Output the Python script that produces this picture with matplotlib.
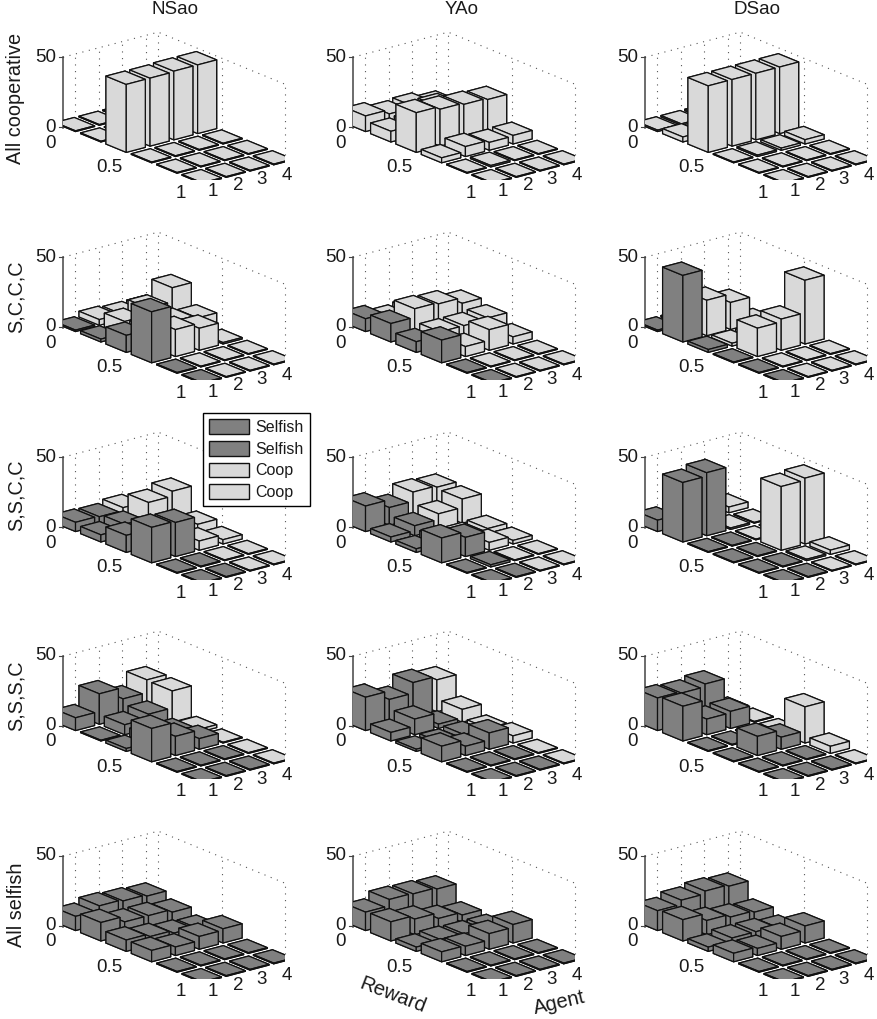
import matplotlib
matplotlib.use("Agg")
import matplotlib.pyplot as plt
from matplotlib.lines import Line2D
from matplotlib.patches import Patch
from matplotlib.transforms import Bbox
from mpl_toolkits.mplot3d import proj3d

plt.rcParams['font.family'] = ['Liberation Sans', 'DejaVu Sans']

W, H = 877, 1019

methods = ["NSao", "YAo", "DSao"]
scenarios = ["All cooperative", "S,C,C,C", "S,S,C,C", "S,S,S,C", "All selfish"]
n_selfish = [0, 1, 2, 3, 4]
rewards = [0, 0.2, 0.4, 0.6, 0.8, 1]
agents = [1, 2, 3, 4]
reward_ticks = ["0", "0.5", "1"]

# height per agent (rows) and reward (columns)
ns_0 = [[.5, .5, 48, .5, .5, .5], [.5, .5, 48, .5, .5, .5], [.5, .5, 48.5, .5, .5, .5], [.5, .5, 48.5, .5, .5, .5]]
ya_0 = [[11, 7.5, 28, 3.5, .5, .5], [8, 8, 26, 7, 1, .5], [9, 16, 25, 5.5, .5, .5], [6, 10, 24, 6, .5, .5]]
ds_0 = [[1, 3.5, 47, .5, .5, .5], [1, 1, 47, 1, .5, .5], [1, 1, 47, 1.5, .5, .5], [1, 1, 47, 3, .5, .5]]

ns_1 = [[1, 2, 12, 36, .5, .5], [4, 10, 12, 19, .5, .5], [3, 15, 13, 15.5, .5, .5], [3, 25, 11, 1, .5, .5]]
ya_1 = [[9, 13, 7.5, 16, .5, .5], [5, 19, 10, 7, .5, .5], [6, 18, 10, 14.5, .5, .5], [4, 14, 11, 5, .5, .5]]
ds_1 = [[1, 47, 2, .5, .5, .5], [1, 25, 2, 20, .5, .5], [1, 19, 2, 22, .5, .5], [1, 1, 2, 45, .5, .5]]

ns_2 = [[6.5, 5, 12, 25, .5, .5], [6, 8, 8, 24, .5, .5], [8, 19, 8, 6.5, .5, .5], [4, 22.5, 6.5, 3, .5, .5]]
ya_2 = [[18, 3.5, 2.5, 17.5, .5, .5], [12.5, 7, 5, 13.5, 1.5, .5], [19, 11, 3, 5.5, .5, .5], [18, 17, 3.5, 2.5, .5, .5]]
ds_2 = [[8, 42, .5, .5, .5, .5], [1, 44.5, .5, .5, .5, .5], [1, 1, .5, 45, 1, .5], [4, .5, .5, 46.5, 3, .5]]

ns_3 = [[9, .5, 2, 23.5, .5, .5], [21.5, 7, 6, 13.5, .5, .5], [13.5, 10, 5, 7.5, .5, .5], [22.5, 22, 2, .5, .5, .5]]
ya_3 = [[23.5, 6, 1.5, 11, .5, .5], [17.5, 11, 2, 6.5, .5, .5], [25, 3, 3, 11.5, .5, .5], [22.5, 9, 3, 5, .5, .5]]
ds_3 = [[23, 24.5, .5, .5, .5, .5], [22, 11, .5, 13.5, .5, .5], [24, 12, .5, 8.5, .5, .5], [1, .5, .5, 25.5, 5, .5]]

ns_4 = [[10, 13, 8, 8, .5, .5], [13, 9, 6, 6, .5, .5], [12, 9, 4, 9, .5, .5], [11, 7, 3, 10, .5, .5]]
ya_4 = [[13, 13.5, 3, 7, .5, .5], [17.5, 11, 4, 6.5, .5, .5], [17, 7, 3.5, 11, .5, .5], [16, 5, 3.5, 13, .5, .5]]
ds_4 = [[14, 15, 3, 6, .5, .5], [17, 10, 5, 5, .5, .5], [19, 8, 5, 9, .5, .5], [18, 7, 3, 12, .5, .5]]

tablas = [[ns_0, ya_0, ds_0], [ns_1, ya_1, ds_1], [ns_2, ya_2, ds_2], [ns_3, ya_3, ds_3], [ns_4, ya_4, ds_4]]

# pixel position of the left corner of each panel floor
col_x = [63, 353, 645]
row_y = [128, 328, 528, 727, 927]
title_x = [175, 462, 757]

DARK = "#808080"
LIGHT = "#d9d9d9"
TEXT = "#1a1a1a"
FS = 13.5
half_r = 0.08
half_a = 0.4

fig = plt.figure(figsize=(W / 100, H / 100), dpi=100)


def fx(x):
    return x / W


def fy(y):
    return 1 - y / H


def pixel(ax, x, y, z):
    px, py, _ = proj3d.proj_transform(x, y, z, ax.get_proj())
    return ax.transData.transform((px, py))


def fit_axes(ax, x0, y0, width=222):
    # el tamano y la posicion se ajustan midiendo dos esquinas del suelo
    left = pixel(ax, 0, 0.5, 0)
    right = pixel(ax, 1, 4.5, 0)
    pos = ax.get_position()
    k = width / (right[0] - left[0])
    ax.set_position([pos.x0, pos.y0, pos.width * k, pos.height * k])
    left = pixel(ax, 0, 0.5, 0)
    pos = ax.get_position()
    ax.set_position([pos.x0 + (x0 - left[0]) / W, pos.y0 + ((H - y0) - left[1]) / H, pos.width, pos.height])


def panel(x0, y0, tabla, selfish):
    ax = fig.add_axes([0, 0, 241 / W, 241 / H], projection='3d')
    ax.set_proj_type('ortho')
    ax.view_init(elev=19.2, azim=-38.7)
    ax.set_xlim(0, 1)
    ax.set_ylim(0.5, 4.5)
    ax.set_zlim(0, 50)
    ax.set_box_aspect((203, 122, 75))
    ax.set_axis_off()
    ax.computed_zorder = False
    fit_axes(ax, x0, y0)

    # rejilla punteada de las paredes
    dots = dict(color="#555555", lw=0.8, ls=(0, (1, 5)), zorder=0)
    ax.plot([0, 0, 1], [0.5, 4.5, 4.5], [50, 50, 50], **dots)
    for a in agents:
        ax.plot([0, 0], [a, a], [0, 50], **dots)
    for r in [0, 0.5, 1]:
        ax.plot([r, r], [4.5, 4.5], [0, 50], **dots)
    ax.plot([0, 0], [0.5, 0.5], [0, 50], color="#444444", lw=1.1, zorder=0.5)

    # las barras se recortan con el rectangulo de la caja, no con los limites
    caja = Bbox([[x0, H - y0 - 52], [x0 + 222, H - y0 + 100]])

    # de atras hacia adelante
    n = 1
    for i, r in enumerate(rewards):
        for j in range(len(agents) - 1, -1, -1):
            color = DARK if j < selfish else LIGHT
            barra = ax.bar3d(r - half_r, agents[j] - half_a, 0, 2 * half_r, 2 * half_a, tabla[j][i], color=color,
                             shade=False, edgecolor="#111111", linewidth=0.9, zorder=n)
            barra.set_clip_box(caja)
            n += 1

    # ejes a mano con texto real
    for dy, lab in [(-71, "50"), (-1, "0")]:
        fig.add_artist(Line2D([fx(x0 - 4), fx(x0)], [fy(y0 + dy), fy(y0 + dy)], color="#444444", lw=0.8))
        fig.text(fx(x0 - 7), fy(y0 + dy), lab, ha='right', va='center', fontsize=FS, color=TEXT)
    fig.text(fx(x0 - 7), fy(y0 + 15), reward_ticks[0], ha='right', va='center', fontsize=FS, color=TEXT)
    fig.text(fx(x0 + 46), fy(y0 + 40), reward_ticks[1], ha='center', va='center', fontsize=FS, color=TEXT)
    fig.text(fx(x0 + 118), fy(y0 + 65), reward_ticks[2], ha='center', va='center', fontsize=FS, color=TEXT)
    for a, dx, dy in zip(agents, [150, 175, 199, 224], [64, 58, 52, 48]):
        fig.text(fx(x0 + dx), fy(y0 + dy), str(a), ha='center', va='center', fontsize=FS, color=TEXT)


for i in range(len(scenarios)):
    for j in range(len(methods)):
        panel(col_x[j], row_y[i], tablas[i][j], n_selfish[i])

for j, nombre in enumerate(methods):
    fig.text(fx(title_x[j]), fy(9), nombre, ha='center', va='center', fontsize=FS, color=TEXT)

for nombre, y in zip(scenarios, [98, 297, 495, 696, 905]):
    fig.text(fx(16), fy(y), nombre, rotation=90, ha='center', va='center', fontsize=14.3, color=TEXT)

fig.text(fx(393), fy(995), "Reward", rotation=-21, ha='center', va='center', fontsize=14.5, color=TEXT)
fig.text(fx(559), fy(1003), "Agent", rotation=13, ha='center', va='center', fontsize=14.5, color=TEXT)

handles = [Patch(facecolor=DARK, edgecolor="#111111"), Patch(facecolor=DARK, edgecolor="#111111"),
           Patch(facecolor=LIGHT, edgecolor="#111111"), Patch(facecolor=LIGHT, edgecolor="#111111")]
fig.legend(handles, ["Selfish", "Selfish", "Coop", "Coop"], loc='upper left',
           bbox_to_anchor=(fx(203), fy(413)), fontsize=11.5, fancybox=False, framealpha=1,
           edgecolor="black", handlelength=2.5, handleheight=1.05, labelspacing=0.36,
           handletextpad=0.35, borderpad=0.4, borderaxespad=0, labelcolor=TEXT)

fig.savefig("out.png", dpi=100)
